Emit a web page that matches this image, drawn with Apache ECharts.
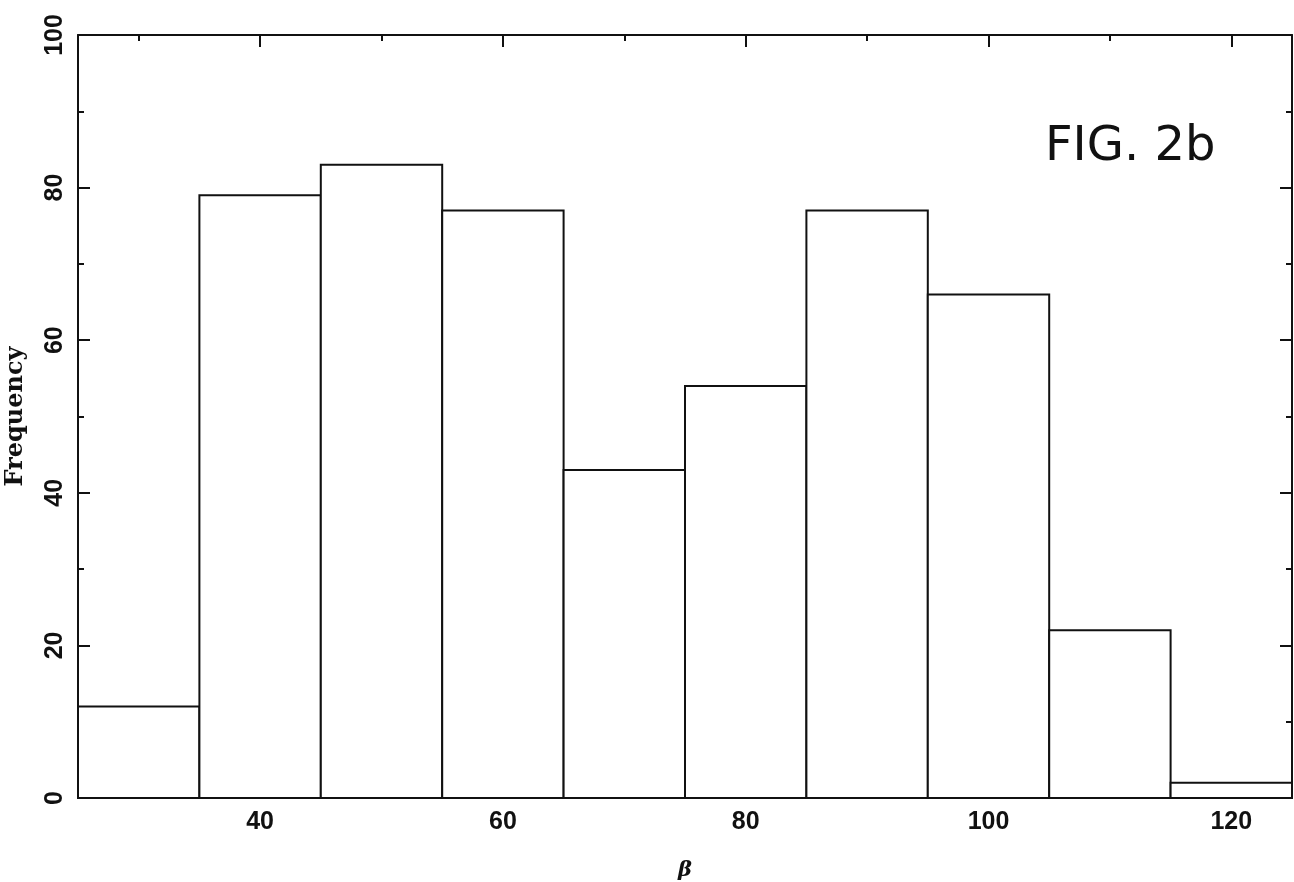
<!DOCTYPE html>
<html>
<head>
<meta charset="utf-8">
<script src="https://cdn.jsdelivr.net/npm/echarts@6/dist/echarts.min.js"></script>
<style>html,body{margin:0;padding:0;background:#fff}#c{width:1294px;height:882px}</style>
</head>
<body>
<div id="c"></div>
<script>
// Data
const binStarts = [25, 35, 45, 55, 65, 75, 85, 95, 105, 115];
const binWidth = 10;
const frequencies = [12, 79, 83, 77, 43, 54, 77, 66, 22, 2];
const xMajorTicks = [40, 60, 80, 100, 120];
const xMinorTicks = [30, 50, 70, 90, 110];
const xTitle = 'β';
const yTitle = 'Frequency';
const figLabel = 'FIG. 2b';

const chart = echarts.init(document.getElementById('c'), null, {renderer: 'canvas'});
const black = '#111';
const labelFont = {color: black, fontSize: 25, fontWeight: 'bold', fontFamily: 'Liberation Sans, Arial, sans-serif'};

function xAx(position, values, len, showLabel, showLine, name) {
  const a = {
    type: 'value', min: 25, max: 125, position: position, offset: 0,
    axisLine: {show: showLine, onZero: false, lineStyle: {color: black, width: 2}},
    axisTick: {show: true, inside: true, length: len, customValues: values, lineStyle: {color: black, width: 2}},
    axisLabel: showLabel ? Object.assign({show: true, margin: 12, customValues: values}, labelFont) : {show: false},
    splitLine: {show: false}
  };
  if (name) {
    a.name = name; a.nameLocation = 'middle'; a.nameGap = 62;
    a.nameTextStyle = {color: black, fontSize: 21, fontWeight: 'bold', fontStyle: 'italic', fontFamily: 'DejaVu Serif, serif'};
  }
  return a;
}
function yAx(position, showLabel, name) {
  const a = {
    type: 'value', min: 0, max: 100, interval: 20, position: position, offset: 0,
    axisLine: {show: true, onZero: false, lineStyle: {color: black, width: 2}},
    axisTick: {show: true, inside: true, length: 12, lineStyle: {color: black, width: 2}},
    minorTick: {show: true, splitNumber: 2, length: 6, lineStyle: {color: black, width: 2}},
    axisLabel: showLabel ? Object.assign({show: true, rotate: 90, margin: 10}, labelFont) : {show: false},
    splitLine: {show: false}
  };
  if (name) {
    a.name = name; a.nameLocation = 'middle'; a.nameGap = 50;
    a.nameTextStyle = {color: black, fontSize: 24, fontWeight: 'bold', fontFamily: 'DejaVu Serif, serif'};
  }
  return a;
}

const option = {
  backgroundColor: '#fff',
  animation: false,
  grid: {left: 78, right: 2, top: 35, bottom: 84, containLabel: false, outerBoundsMode: 'none'},
  xAxis: [
    xAx('bottom', xMajorTicks, 12, true, true, xTitle),
    xAx('bottom', xMinorTicks, 6, false, false),
    xAx('top', xMajorTicks, 12, false, true),
    xAx('top', xMinorTicks, 6, false, false)
  ],
  yAxis: [
    yAx('left', true, yTitle),
    yAx('right', false)
  ],
  graphic: [{
    type: 'text', left: 1045, top: 124,
    style: {text: figLabel, fill: black, font: 'normal 48px "DejaVu Sans", sans-serif'}
  }],
  series: [{
    type: 'custom',
    xAxisIndex: 0, yAxisIndex: 0,
    data: binStarts.map((s, i) => [s, s + binWidth, frequencies[i]]),
    renderItem: function (params, api) {
      const p0 = api.coord([api.value(0), api.value(2)]);
      const p1 = api.coord([api.value(1), 0]);
      return {
        type: 'rect',
        shape: {x: p0[0], y: p0[1], width: p1[0] - p0[0], height: p1[1] - p0[1]},
        style: {fill: '#fff', stroke: black, lineWidth: 2}
      };
    },
    z: 1
  }]
};
chart.setOption(option);
</script>
</body>
</html>
